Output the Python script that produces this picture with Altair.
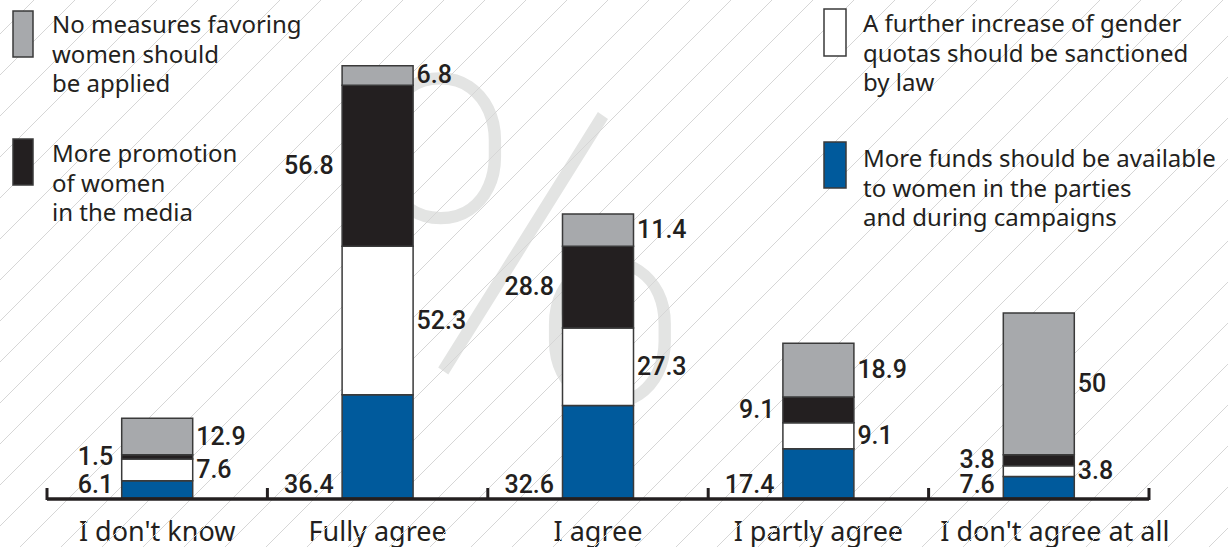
import altair as alt
import pandas as pd

categories = ["I don't know", "Fully agree", "I agree", "I partly agree", "I don't agree at all"]
series_names = [
    "More funds should be available\nto women in the parties\nand during campaigns",
    "A further increase of gender\nquotas should be sanctioned\nby law",
    "More promotion\nof women\nin the media",
    "No measures favoring\nwomen should\nbe applied",
]
funds = [6.1, 36.4, 32.6, 17.4, 7.6]
quotas = [7.6, 52.3, 27.3, 9.1, 3.8]
media = [1.5, 56.8, 28.8, 9.1, 3.8]
no_measures = [12.9, 6.8, 11.4, 18.9, 50]

series_keys = ["funds", "quotas", "media", "none"]
series_values = [funds, quotas, media, no_measures]
colors = ["#005a9c", "#ffffff", "#231f20", "#a7a9ac"]
sides = ["bottom", "right", "left", "right"]

rows = []
for ci, cat in enumerate(categories):
    base = 0.0
    for si, key in enumerate(series_keys):
        v = series_values[si][ci]
        rows.append({
            "cat": cat, "series": key, "order": si, "value": v,
            "y0": base, "y1": base + v, "mid": base + v / 2,
            "label": f"{v:g}", "side": sides[si],
        })
        base += v
df = pd.DataFrame(rows)

TEXT = "#231f20"
FONT = "Noto Sans"
W, H = 1102, 498
YMAX = 175.5

xenc = alt.X("cat:N", sort=categories,
             scale=alt.Scale(paddingInner=0, paddingOuter=0),
             axis=alt.Axis(title=None, domain=False, ticks=False, tickSize=0,
                           labelAngle=0, labelFont=FONT, labelFontSize=27,
                           labelColor=TEXT, labelPadding=42, labelLimit=0,
                           labelBaseline="alphabetic",
                           labelOffset=alt.ExprRef("indexof(datum.value, 'at all') > 0 ? 16 : 0")))
yscale = alt.Scale(domain=[0, YMAX])

# watermark "%"
pct = alt.Chart(pd.DataFrame({"t": ["%"]})).mark_text(
    font="Roboto", fontSize=460, fontWeight=100, color="#e3e4e3",
    align="center", baseline="alphabetic"
).encode(text="t:N", x=alt.value(478), y=alt.value(404))

# hatching background
hatch = alt.Chart(pd.DataFrame({"i": list(range(0, 50))})).transform_calculate(
    xa="datum.i * 41 - 650 + 14 - 47",
    ya="547",
).transform_calculate(
    xb="datum.xa + 600",
    yb="-53",
).mark_rule(color="#d6d6d6", strokeWidth=1).encode(
    x=alt.X("xa:Q", scale=None), x2="xb:Q",
    y=alt.Y("ya:Q", scale=None), y2="yb:Q",
)

bars = alt.Chart(df).mark_bar(width=71, stroke="#3a3a3a", strokeWidth=1.5).encode(
    x=xenc,
    y=alt.Y("y0:Q", scale=yscale, axis=None),
    y2="y1:Q",
    color=alt.Color("series:N", scale=alt.Scale(domain=series_keys, range=colors), legend=None),
)

num_style = dict(font="Roboto", fontSize=25, fontWeight=500, color=TEXT)
lab_left = alt.Chart(df).transform_filter("datum.side == 'left'").mark_text(
    align="right", baseline="middle", dx=-44, **num_style
).encode(x=alt.X("cat:N", sort=categories), y=alt.Y("mid:Q", scale=yscale), text="label:N")
lab_right = alt.Chart(df).transform_filter("datum.side == 'right'").mark_text(
    align="left", baseline="middle", dx=39, **num_style
).encode(x=alt.X("cat:N", sort=categories), y=alt.Y("mid:Q", scale=yscale), text="label:N")
lab_bottom = alt.Chart(df).transform_filter("datum.side == 'bottom'").mark_text(
    align="right", baseline="alphabetic", dx=-44, dy=-5, **num_style
).encode(x=alt.X("cat:N", sort=categories), y=alt.Y("y0:Q", scale=yscale), text="label:N")

# axis line and upward ticks
cat_df = pd.DataFrame({"cat": categories})
axis_line = alt.Chart(cat_df.head(1)).mark_rule(color=TEXT, strokeWidth=3.5).encode(
    x=alt.value(0), x2=alt.value(W), y=alt.value(499))
ticks_a = alt.Chart(cat_df).mark_rule(color=TEXT, strokeWidth=3).encode(
    x=alt.X("cat:N", sort=categories, bandPosition=0), y=alt.value(488), y2=alt.value(500))
ticks_b = alt.Chart(cat_df.tail(1)).mark_rule(color=TEXT, strokeWidth=3).encode(
    x=alt.X("cat:N", sort=categories, bandPosition=1), y=alt.value(488), y2=alt.value(500))

# legend
legend_layers = []
swatches = [
    (3, -34, -14, 11, 57, 5, 33),
    (2, -34, -14, 139, 185, 5, 162),
    (1, 777, 799, 9, 56, 816, 32),
    (0, 777, 799, 142, 188, 816, 167),
]
for si, x1, x2, y1, y2, tx, ty in swatches:
    sw = alt.Chart(cat_df.head(1)).mark_rect(
        color=colors[si], stroke="#3a3a3a", strokeWidth=1.5
    ).encode(x=alt.value(x1), x2=alt.value(x2), y=alt.value(y1), y2=alt.value(y2))
    tx_mark = alt.Chart(pd.DataFrame({"t": [series_names[si]]})).mark_text(
        font=FONT, fontSize=24, color=TEXT, align="left", baseline="alphabetic",
        lineBreak="\n", lineHeight=29.5
    ).encode(text="t:N", x=alt.value(tx), y=alt.value(ty))
    legend_layers += [sw, tx_mark]

chart = alt.layer(
    pct, hatch, bars, lab_left, lab_right, lab_bottom, axis_line, ticks_a, ticks_b,
    *legend_layers
).properties(
    width=W, height=H,
    autosize=alt.AutoSizeParams(type="none"),
    padding={"left": 47, "right": 79, "top": 0, "bottom": 49},
    background="white",
).configure_view(stroke=None)

chart.save("out.html", embed_options={"renderer": "svg", "actions": False})
